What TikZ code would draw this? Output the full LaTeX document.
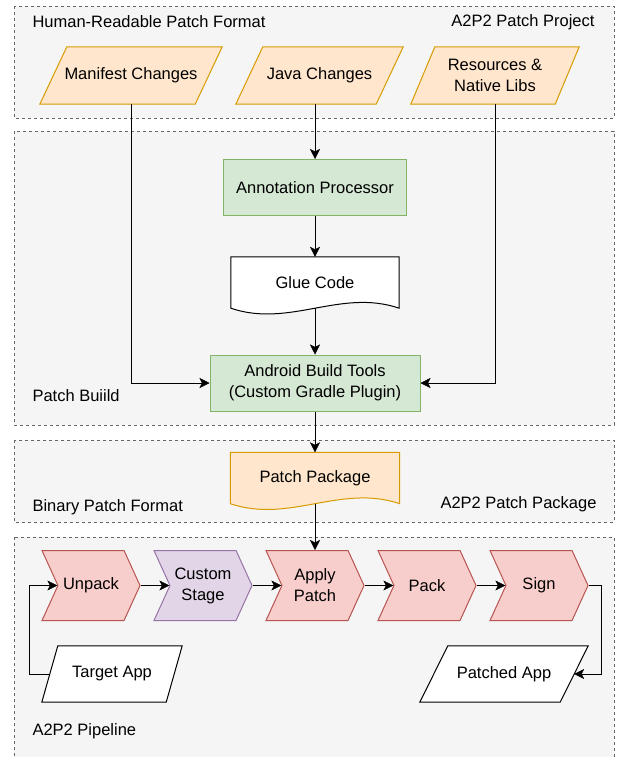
\documentclass[tikz,border=0pt]{standalone}
\usepackage{fontspec}
\setmainfont{Liberation Sans}
\usetikzlibrary{arrows.meta,shapes.symbols,positioning,calc}

\definecolor{grpfill}{HTML}{F5F5F5}
\definecolor{grpline}{HTML}{666666}
\definecolor{orfill}{HTML}{FFE6CC}
\definecolor{orline}{HTML}{D79B00}
\definecolor{grfill}{HTML}{D5E8D4}
\definecolor{grline}{HTML}{82B366}
\definecolor{rdfill}{HTML}{F8CECC}
\definecolor{rdline}{HTML}{B85450}
\definecolor{pufill}{HTML}{E1D5E7}
\definecolor{puline}{HTML}{9673A6}

\pgfdeclarelayer{back}
\pgfdeclarelayer{paper}
\pgfsetlayers{back,paper,main}

% wavy document outline round a node
\newcommand{\paperpath}[2]{%
    \draw[#2] (#1.south east) -- (#1.north east) -- (#1.north west) -- (#1.south west)
        .. controls ($(#1.south west)!0.35!(#1.south east)+(0,20)$)
        and ($(#1.south west)!0.65!(#1.south east)+(0,-20)$) .. (#1.south east) -- cycle;}
% slanted (data) outline round a node
\newcommand{\slantpath}[3]{%
    \draw[#3] ($(#1.north west)+(#2,0)$) -- (#1.north east)
        -- ($(#1.south east)-(#2,0)$) -- (#1.south west) -- cycle;}

\begin{document}
\begin{tikzpicture}[
        x=1pt, y=-1pt, ->, >={Stealth[length=10pt,width=10pt,inset=2.5pt]}, line width=1.8pt,
        font=\fontsize{16.5}{21}\selectfont
    ]

    \tikzstyle{group} = [-, draw=grpline, fill=grpfill, line width=0.8pt, dash pattern=on 3pt off 3pt]
    \tikzstyle{input} = [rectangle, minimum height=57pt, align=center]
    \tikzstyle{tool}  = [rectangle, draw=grline, fill=grfill, line width=1pt, minimum height=56pt, align=center]
    \tikzstyle{paper} = [rectangle, minimum width=168pt, minimum height=51pt]
    \tikzstyle{stage} = [signal, signal from=west, signal to=east, signal pointer angle=131,
        draw=rdline, fill=rdfill, line width=1pt, minimum width=98pt, minimum height=70pt, align=center]

    \useasboundingbox (0,0) rectangle (616,757);

    \begin{pgfonlayer}{back}
        \draw[group] (14,6)   rectangle (614,118);
        \draw[group] (14,131) rectangle (614,425);
        \draw[group] (14,440) rectangle (614,522);
        \draw[group] (14,537) rectangle (614,770);
    \end{pgfonlayer}

    % group captions
    \node[anchor=west] (hrpf)  at (29,22)  {Human-Readable Patch Format};
    \node[anchor=east] (proj)  at (598,22) {A2P2 Patch Project};
    \node[anchor=west] (build) at (29,396) {Patch Buiild};
    \node[anchor=west] (bpf)   at (29,507) {Binary Patch Format};
    \node[anchor=east] (ppkg)  at (600,504) {A2P2 Patch Package};
    \node[anchor=west] (pipe)  at (29,731) {A2P2 Pipeline};

    % patch project
    \node[input, minimum width=182pt] (manifest) at (131,75.5) {Manifest Changes};
    \node[input, minimum width=167pt] (java)     at (319.5,75.5) {Java Changes};
    \node[input, minimum width=168pt] (res)      at (495,75.5) {Resources \&\\ Native Libs};

    % build
    \node[tool, minimum width=183pt] (annot) at (315,187.5) {Annotation Processor};
    \node[paper] (glue) at (315,282.5) {Glue Code};
    \node[tool, minimum width=210pt] (abt) at (315,383) {Android Build Tools\\(Custom Gradle Plugin)};
    \node[paper, minimum width=169pt] (pkg) at (315,478) {Patch Package};

    % pipeline
    \node[stage] (unpack) at (91,585.5)  {Unpack};
    \node[stage, draw=puline, fill=pufill] (custom) at (203,585.5) {Custom\\Stage};
    \node[stage] (apply)  at (315,585.5) {Apply\\Patch};
    \node[stage] (pack)   at (427,585.5) {Pack};
    \node[stage] (sign)   at (539,585.5) {Sign};
    \node[input, minimum width=140pt, minimum height=56pt] (target)  at (112,674) {Target App};
    \node[input, minimum width=168pt, minimum height=56pt] (patched) at (504,674) {Patched App};

    \begin{pgfonlayer}{paper}
        \slantpath{manifest}{27}{-, line width=1pt, draw=orline, fill=orfill}
        \slantpath{java}{27}{-, line width=1pt, draw=orline, fill=orfill}
        \slantpath{res}{24}{-, line width=1pt, draw=orline, fill=orfill}
        \paperpath{glue}{-, line width=1pt, draw=black, fill=white}
        \paperpath{pkg}{-, line width=1pt, draw=orline, fill=orfill}
        \slantpath{target}{16}{-, line width=1pt, draw=black, fill=white}
        \slantpath{patched}{28}{-, line width=1pt, draw=black, fill=white}
    \end{pgfonlayer}

    % ends on the stage outlines
    \foreach \s in {unpack,custom,apply,pack,sign} {
        \coordinate (\s-in)  at (\s.180 |- \s.center);
        \coordinate (\s-out) at (\s.east |- \s.center);
    }
    \coordinate (apply-top) at (apply.north);
    \coordinate (tgtout) at ($(target.west)+(8,0)$);
    \coordinate (loopin) at (29,585.5);
    \coordinate (loopout) at (601,585.5);
    \coordinate (ptdin) at ($(patched.east)-(14,0)$);

    \draw (java.south -| annot.north) -- (annot);
    \draw (annot)  -- (glue);
    \draw (glue)   -- (abt);
    \draw (abt)    -- (pkg);
    \draw (pkg)    -- (apply-top);
    \draw (manifest) |- (abt);
    \draw (res)    |- (abt);
    \draw (unpack-out) -- (custom-in);
    \draw (custom-out) -- (apply-in);
    \draw (apply-out)  -- (pack-in);
    \draw (pack-out)   -- (sign-in);
    \draw (sign-out) -- (loopout) |- (ptdin);
    \draw (tgtout) -- (tgtout -| loopin) -- (loopin) -- (unpack-in);

\end{tikzpicture}
\end{document}
